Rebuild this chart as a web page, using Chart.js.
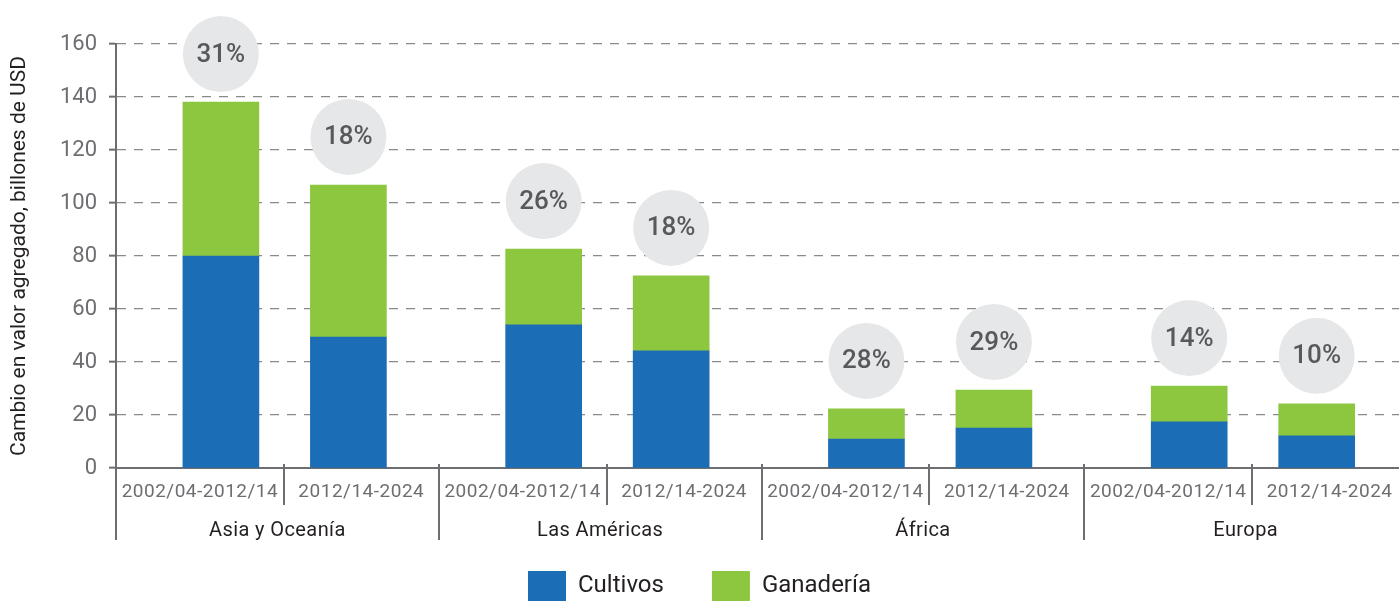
<!DOCTYPE html>
<html><head><meta charset="utf-8">
<script src="https://cdn.jsdelivr.net/npm/chart.js@4/dist/chart.umd.min.js"></script>
<style>html,body{margin:0;padding:0;background:#fff;overflow:hidden;} canvas{display:block;}</style>
</head><body>
<canvas id="c" width="1399" height="601"></canvas>
<script>
// ---- data ----
const regions = ['Asia y Oceanía', 'Las Américas', 'África', 'Europa'];
const periods = ['2002/04-2012/14', '2012/14-2024'];
const cultivos = [80, 49.4, 54, 44.2, 10.9, 15.1, 17.4, 12.1];
const ganaderia = [58.1, 57.4, 28.6, 28.3, 11.4, 14.3, 13.5, 12.1];
const pctLabels = ['31%', '18%', '26%', '18%', '28%', '29%', '14%', '10%'];
const yTicks = [0, 20, 40, 60, 80, 100, 120, 140, 160];
const seriesNames = ['Cultivos', 'Ganadería'];
const yTitle = 'Cambio en valor agregado, billones de USD';

// ---- layout / style ----
const periodOffset = [0.65, 0.44];
const innerSepShift = 0.04;
const xClip = 0.05; // plot area runs slightly past the right edge
const FONT = 'Roboto, "Liberation Sans", sans-serif';
const GRAY = '#6d6e71';
const DARK = '#231f20';
const BLUE = '#1b6db6';
const GREEN = '#8dc63f';

const slots = regions.flatMap((r, g) => periods.map((p, k) => ({ g, k, label: p })));
const xs = slots.map((s, i) => i + periodOffset[s.k]);
const toPts = arr => arr.map((v, i) => ({ x: xs[i], y: v }));

const decor = {
  id: 'decor',
  afterDatasetsDraw(chart) {
    const ctx = chart.ctx;
    const meta = chart.getDatasetMeta(1);
    ctx.save();
    meta.data.forEach((bar, i) => {
      const cx = bar.x, cy = bar.y - 48;
      ctx.beginPath();
      ctx.arc(cx, cy, 38, 0, Math.PI * 2);
      ctx.fillStyle = '#e6e7e8';
      ctx.fill();
      ctx.fillStyle = '#58595b';
      ctx.font = '500 26px ' + FONT;
      ctx.textAlign = 'center';
      ctx.textBaseline = 'middle';
      ctx.fillText(pctLabels[i], cx, cy + 1);
    });
    ctx.restore();
  },
  afterDraw(chart) {
    const { ctx, chartArea, scales: { x } } = chart;
    const b = chartArea.bottom;
    ctx.save();
    ctx.strokeStyle = GRAY;
    ctx.lineWidth = 2;
    for (let i = 0; i < slots.length; i++) {
      const isGroup = i % periods.length === 0;
      const px = Math.round(x.getPixelForValue(isGroup ? i : i + innerSepShift));
      ctx.beginPath();
      ctx.moveTo(px, i === 0 ? b : b - 4);
      ctx.lineTo(px, isGroup ? b + 72 : b + 37);
      ctx.stroke();
    }
    ctx.textAlign = 'center';
    ctx.textBaseline = 'middle';
    ctx.letterSpacing = '0.5px';
    ctx.font = '19px ' + FONT;
    ctx.fillStyle = GRAY;
    slots.forEach((s, i) => ctx.fillText(s.label, x.getPixelForValue(i + 0.52), b + 24));
    ctx.letterSpacing = '0.4px';
    ctx.font = '20px ' + FONT;
    ctx.fillStyle = DARK;
    regions.forEach((r, g) => ctx.fillText(r, x.getPixelForValue(g * periods.length + periods.length / 2), b + 63));
    ctx.restore();
  }
};

new Chart(document.getElementById('c'), {
  type: 'bar',
  data: {
    datasets: [
      { label: seriesNames[0], data: toPts(cultivos), backgroundColor: BLUE, borderWidth: 0, barThickness: 76 },
      { label: seriesNames[1], data: toPts(ganaderia), backgroundColor: GREEN, borderWidth: 0, barThickness: 76 }
    ]
  },
  options: {
    responsive: false,
    animation: false,
    layout: { padding: { top: 44, right: 0, bottom: -10, left: 0 } },
    plugins: {
      tooltip: { enabled: false },
      legend: {
        position: 'bottom',
        labels: { boxWidth: 38, boxHeight: 30, padding: 48, color: DARK, font: { size: 24, family: FONT } }
      }
    },
    scales: {
      x: {
        type: 'linear', min: 0, max: slots.length - xClip, stacked: true, offset: false,
        ticks: { display: false },
        grid: { display: false, offset: false },
        border: { color: GRAY, width: 2 },
        afterFit: s => { s.height = 55; }
      },
      y: {
        min: 0, max: 160, stacked: true,
        afterBuildTicks: s => { s.ticks = yTicks.map(v => ({ value: v })); },
        ticks: { color: GRAY, padding: 12, font: { size: 22, family: FONT } },
        grid: { color: '#8a8a8a', lineWidth: 1.3, tickColor: GRAY, tickLength: 7, tickWidth: 2, tickBorderDash: [] },
        border: { color: GRAY, width: 2, dash: [9, 8] },
        title: { display: true, text: yTitle, color: DARK, font: { size: 21, family: FONT }, padding: { top: 7, bottom: 0 } },
        afterFit: s => { s.width = 116; }
      }
    }
  },
  plugins: [decor]
});
</script>
</body></html>
